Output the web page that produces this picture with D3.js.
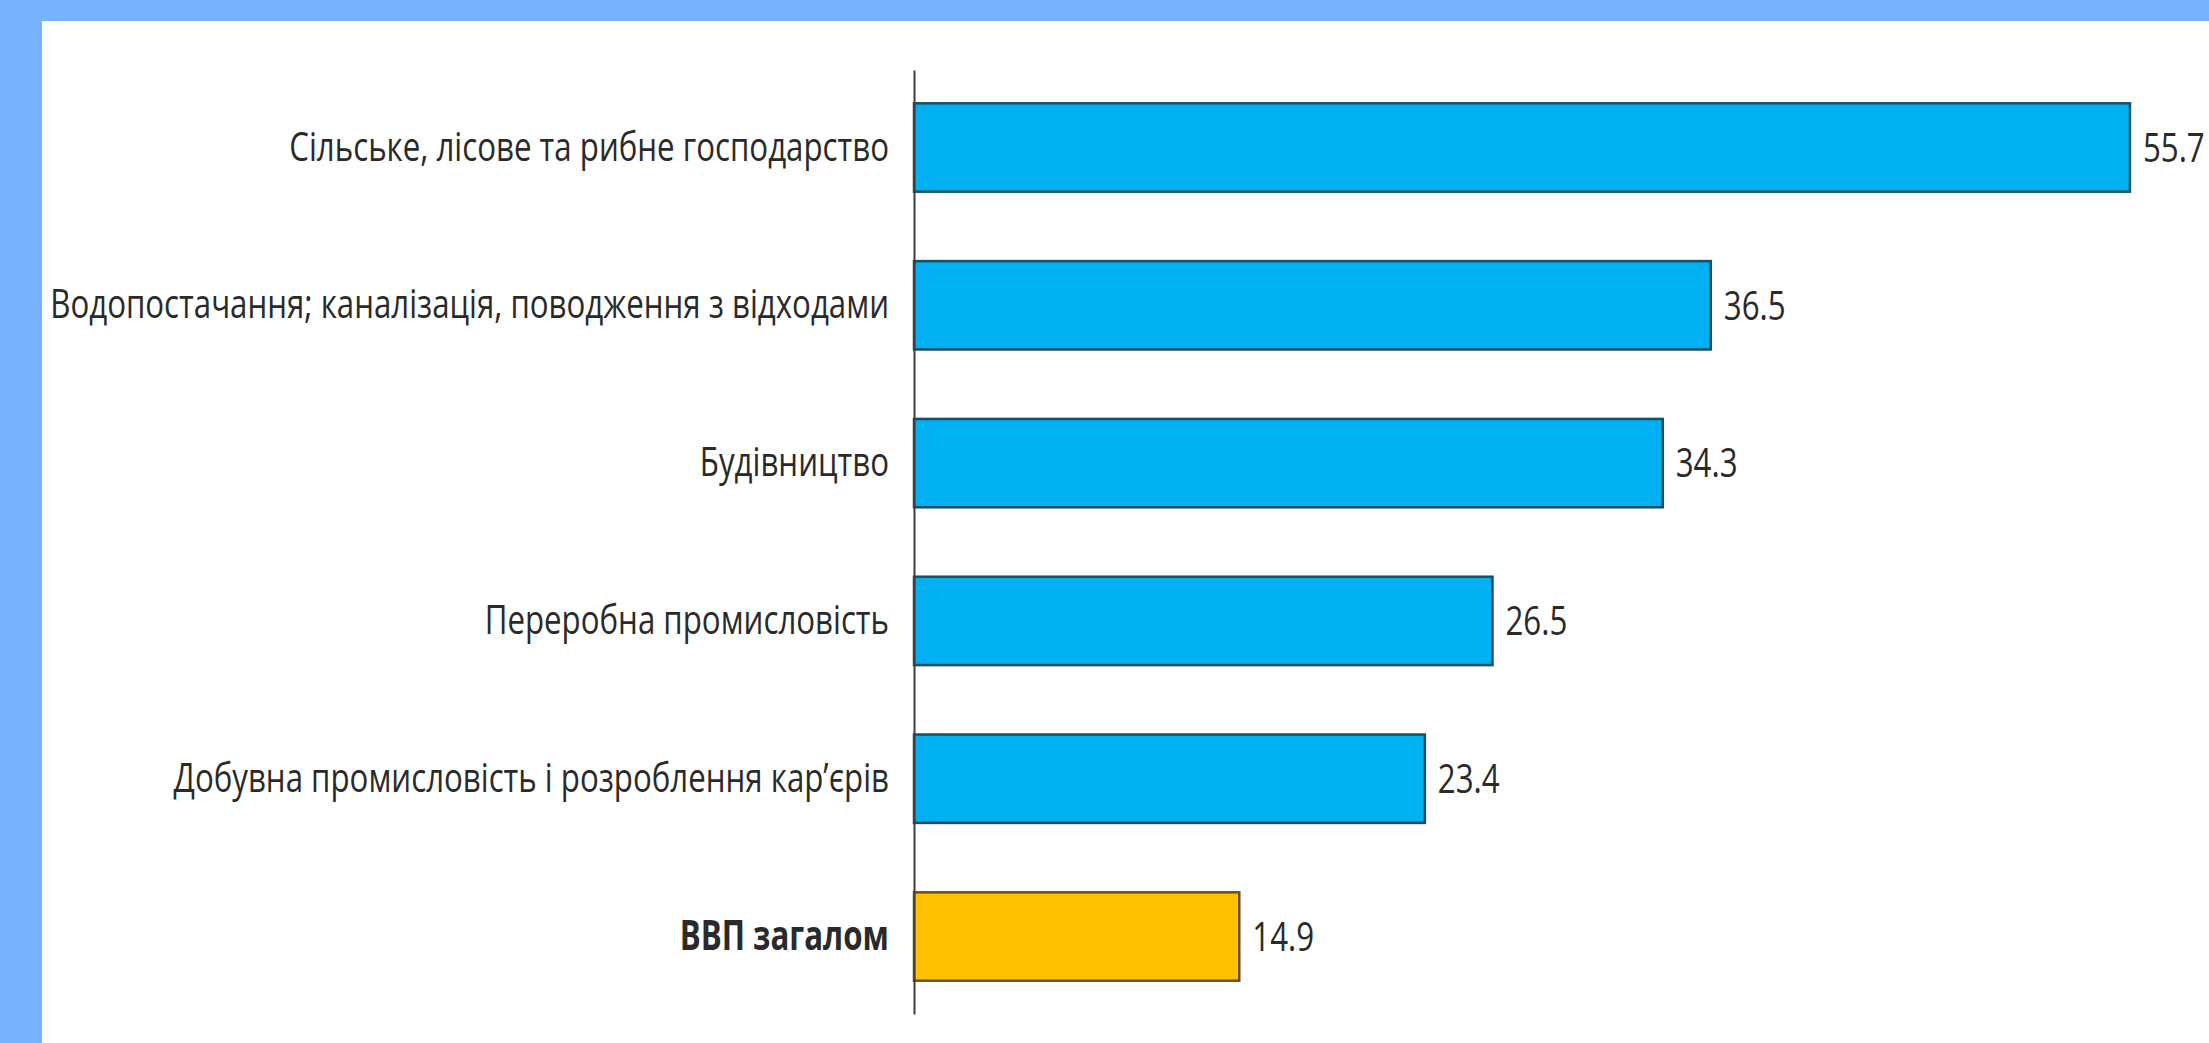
<!DOCTYPE html>
<html>
<head>
<meta charset="utf-8">
<script src="https://cdn.jsdelivr.net/npm/d3@7"></script>
<style>
  html, body { margin: 0; padding: 0; background: #77b3fd; overflow: hidden; }
  svg { display: block; }
</style>
</head>
<body>
<div id="chart"></div>
<script>
/* Horizontal bar chart — share by sector, with GDP total highlighted */
var categories = [
  "Сільське, лісове та рибне господарство",
  "Водопостачання; каналізація, поводження з відходами",
  "Будівництво",
  "Переробна промисловість",
  "Добувна промисловість і розроблення кар’єрів",
  "ВВП загалом"
];
var values = [55.7, 36.5, 34.3, 26.5, 23.4, 14.9];
var highlight = "ВВП загалом";

var width = 2209, height = 1043;
var plot = { left: 914, top: 70, bottom: 1014 };
var pxPerUnit = 21.83;
var pad = 25;

var svg = d3.select("#chart").append("svg")
  .attr("width", width)
  .attr("height", height);

// white panel over the blue frame
svg.append("rect")
  .attr("x", 42).attr("y", 21)
  .attr("width", width - 42).attr("height", height - 21)
  .attr("fill", "#ffffff");

var x = d3.scaleLinear()
  .domain([0, 60])
  .range([plot.left, plot.left + 60 * pxPerUnit]);

var y = d3.scaleBand()
  .domain(categories)
  .range([plot.top, plot.bottom])
  .paddingInner(0.44)
  .paddingOuter(0.211);

var fontFam = "'Open Sans', 'Noto Sans', sans-serif";

// bars
svg.append("g").selectAll("rect")
  .data(categories)
  .join("rect")
  .attr("x", x(0))
  .attr("y", function (d) { return y(d); })
  .attr("width", function (d, i) { return x(values[i]) - x(0); })
  .attr("height", y.bandwidth())
  .attr("fill", function (d) { return d === highlight ? "#ffc000" : "#00b0f0"; })
  .attr("stroke", function (d) { return d === highlight ? "#6b520c" : "#1a4f60"; })
  .attr("stroke-width", 2.5);

// category axis (vertical line + labels)
var axis = svg.append("g")
  .attr("transform", "translate(" + plot.left + ",0)")
  .call(d3.axisLeft(y).tickSize(0).tickSizeOuter(0).tickPadding(pad));

axis.select(".domain")
  .attr("stroke", "#3f3f3f")
  .attr("stroke-width", 2);

var labels = axis.selectAll(".tick text")
  .attr("font-family", fontFam)
  .attr("font-size", 41)
  .attr("fill", "#2a2a2a")
  .attr("font-weight", function (d) { return d === highlight ? "bold" : "normal"; });

// the original uses a narrow font: squeeze text horizontally to match
var firstW = labels.nodes()[0].getComputedTextLength();
var sx = 600 / firstW;

labels
  .attr("x", -pad / sx)
  .attr("transform", "scale(" + sx + ",1)");

// value labels
svg.append("g").selectAll("text")
  .data(categories)
  .join("text")
  .attr("x", function (d, i) { return (x(values[i]) + 13) / sx; })
  .attr("y", function (d) { return y(d) + y.bandwidth() / 2; })
  .attr("dy", "0.35em")
  .attr("transform", "scale(" + sx + ",1)")
  .attr("font-family", fontFam)
  .attr("font-size", 41)
  .attr("fill", "#2a2a2a")
  .text(function (d, i) { return values[i].toFixed(1); });
</script>
</body>
</html>
